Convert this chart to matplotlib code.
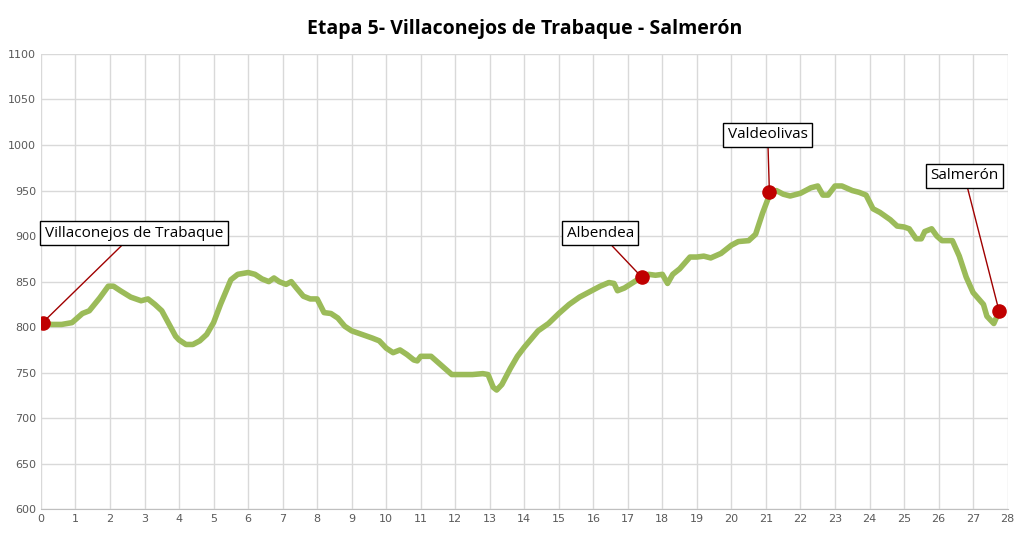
import matplotlib
matplotlib.use("Agg")
import matplotlib.pyplot as plt

# elevation profile (km, m)
KM = [0, 0.3, 0.6, 0.9, 1.2, 1.4, 1.7, 1.95, 2.1, 2.3, 2.6, 2.9, 3.1, 3.3, 3.5, 3.7, 3.9, 4.0,
      4.2, 4.4, 4.6, 4.8, 5.0, 5.2, 5.4, 5.5, 5.7, 6.0, 6.2, 6.4, 6.6, 6.75, 6.9, 7.1, 7.25,
      7.4, 7.6, 7.8, 8.0, 8.2, 8.4, 8.6, 8.8, 9.0, 9.3, 9.6, 9.8, 10.0, 10.2, 10.4, 10.6,
      10.8, 10.9, 11.0, 11.3, 11.6, 11.9, 12.2, 12.5, 12.8, 12.95, 13.1, 13.2, 13.35, 13.6,
      13.8, 14.0, 14.2, 14.4, 14.7, 15.0, 15.3, 15.6, 15.9, 16.2, 16.45, 16.6, 16.7, 16.9,
      17.15, 17.4, 17.6, 17.8, 18.0, 18.15, 18.3, 18.5, 18.8, 19.0, 19.2, 19.4, 19.7, 20.0,
      20.2, 20.5, 20.7, 20.9, 21.1, 21.3, 21.5, 21.7, 22.0, 22.3, 22.5, 22.65, 22.8, 23.0,
      23.2, 23.5, 23.7, 23.9, 24.1, 24.3, 24.6, 24.8, 25.0, 25.15, 25.35, 25.5, 25.6, 25.8,
      25.95, 26.1, 26.4, 26.6, 26.8, 27.0, 27.3, 27.4, 27.6, 27.75]
ELEV = [805, 803, 803, 805, 815, 818, 832, 845, 845, 840, 833, 829, 831, 825, 818, 804, 790, 786,
        781, 781, 785, 792, 805, 825, 843, 852, 858, 860, 858, 853, 850, 854, 850, 847, 850,
        843, 834, 831, 831, 816, 815, 810, 801, 796, 792, 788, 785, 777, 772, 775, 770,
        764, 763, 768, 768, 758, 748, 748, 748, 749, 748, 734, 731, 737, 755,
        768, 778, 787, 796, 804, 815, 825, 833, 839, 845, 849, 848, 840, 843,
        849, 855, 858, 857, 858, 848, 858, 864, 877, 877, 878, 876, 881, 890,
        894, 895, 902, 925, 945, 950, 946, 944, 947, 953, 955, 945, 945, 955,
        955, 950, 948, 945, 930, 926, 918, 911, 910, 908, 897, 897, 905, 908,
        900, 895, 895, 878, 855, 838, 825, 812, 804, 817]

# waypoints and their label positions
PLACES = ["Villaconejos de Trabaque", "Albendea", "Valdeolivas", "Salmerón"]
PLACE_KM = [0.05, 17.4, 21.1, 27.75]
PLACE_ELEV = [805, 855, 948, 818]
LABEL_KM = [2.7, 16.2, 21.05, 26.75]
LABEL_ELEV = [903, 903, 1011, 966]

fig, ax = plt.subplots(figsize=(10.24, 5.39), dpi=100)
ax.plot(KM, ELEV, color="#9BBB59", lw=4, solid_capstyle="round", zorder=3)
ax.scatter(PLACE_KM, PLACE_ELEV, s=90, color="#C00000", zorder=4)
for name, x, y, lx, ly in zip(PLACES, PLACE_KM, PLACE_ELEV, LABEL_KM, LABEL_ELEV):
    ax.annotate(name, xy=(x, y), xytext=(lx, ly), ha="center", va="center",
                fontsize=11, family="Open Sans",
                bbox=dict(boxstyle="square,pad=0.3", fc="white", ec="black", lw=1),
                arrowprops=dict(arrowstyle="-", color="#A00000", lw=1, shrinkA=0, shrinkB=4),
                zorder=5)

ax.set_xlim(0, 28)
ax.set_ylim(600, 1100)
ax.set_xticks(range(0, 29))
ax.set_yticks(range(600, 1101, 50))
ax.grid(color="#D9D9D9", lw=1)
ax.set_axisbelow(True)
for s in ("top", "right", "left"):
    ax.spines[s].set_visible(False)
ax.spines["bottom"].set_color("#BFBFBF")
ax.tick_params(length=0, labelsize=8, labelcolor="#595959")
ax.set_title("Etapa 5- Villaconejos de Trabaque - Salmerón", fontsize=14,
             fontweight="bold", family="Open Sans", pad=14)
fig.subplots_adjust(left=0.04, right=0.984, top=0.9, bottom=0.055)
fig.savefig("out.png", dpi=100)
